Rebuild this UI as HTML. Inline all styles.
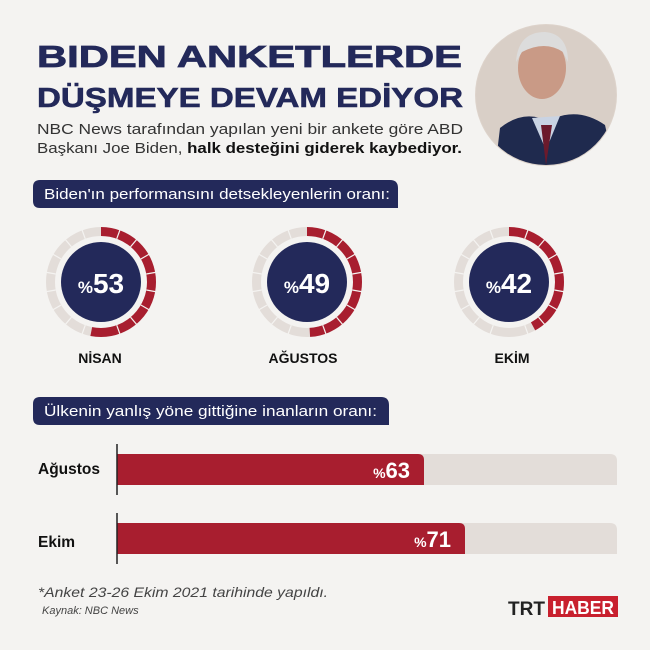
<!DOCTYPE html>
<html><head><meta charset="utf-8"><style>
html,body{margin:0;padding:0;background:#f4f3f1;}
svg{display:block}
</style></head><body>
<svg width="650" height="650" viewBox="0 0 650 650" xmlns="http://www.w3.org/2000/svg" font-family="Liberation Sans, sans-serif">
<rect width="650" height="650" fill="#f4f3f1"/>
<text x="37" y="67" font-size="31" font-weight="bold" fill="#23295a" stroke="#23295a" stroke-width="0.8" textLength="425" lengthAdjust="spacingAndGlyphs">BIDEN ANKETLERDE</text>
<text x="37" y="107" font-size="28" font-weight="bold" fill="#23295a" stroke="#23295a" stroke-width="0.6" textLength="426" lengthAdjust="spacingAndGlyphs">DÜŞMEYE DEVAM EDİYOR</text>
<text x="37" y="134" font-size="15" fill="#333" textLength="426" lengthAdjust="spacingAndGlyphs">NBC News tarafından yapılan yeni bir ankete göre ABD</text>
<text x="37" y="153" font-size="15" fill="#333" textLength="425" lengthAdjust="spacingAndGlyphs">Başkanı Joe Biden, <tspan font-weight="bold" fill="#111">halk desteğini giderek kaybediyor.</tspan></text>
<defs><clipPath id="pc"><circle cx="546" cy="95" r="70"/></clipPath></defs>
<circle cx="546" cy="95" r="71" fill="#ddd3cb"/>
<g clip-path="url(#pc)">
<rect x="470" y="20" width="160" height="160" fill="#d9cfc7"/>
<path d="M495 170 L500 128 Q520 112 540 118 L555 118 Q580 108 605 125 L615 170Z" fill="#1f2a4e"/>
<path d="M532 118 L546 150 L560 116Z" fill="#c9d3e3"/>
<path d="M541 125 L546 165 L552 125Z" fill="#6b1a2c"/>
<ellipse cx="542" cy="68" rx="24" ry="31" fill="#c99a86"/>
<path d="M516 62 Q518 32 545 32 Q568 34 568 62 L563 52 Q545 40 522 52Z" fill="#dcdcdc"/>
</g>
<path d="M40 180 H390 Q398 180 398 188 V208 H40 Q33 208 33 201 V187 Q33 180 40 180Z" fill="#23295a"/>
<text x="44" y="199" font-size="14.5" fill="#fff" textLength="346" lengthAdjust="spacingAndGlyphs">Biden'ın performansını detsekleyenlerin oranı:</text>
<g transform="translate(101,282)">
<circle r="50.5" fill="none" stroke="#e3ddd9" stroke-width="9"/>
<circle r="50.5" fill="none" stroke="#a81e2f" stroke-width="9" stroke-dasharray="168.2 400" transform="rotate(-90)"/>
<circle r="40" fill="#23295a"/>
</g>
<g transform="translate(307,282)">
<circle r="50.5" fill="none" stroke="#e3ddd9" stroke-width="9"/>
<circle r="50.5" fill="none" stroke="#a81e2f" stroke-width="9" stroke-dasharray="155.5 400" transform="rotate(-90)"/>
<circle r="40" fill="#23295a"/>
</g>
<g transform="translate(509,282)">
<circle r="50.5" fill="none" stroke="#e3ddd9" stroke-width="9"/>
<circle r="50.5" fill="none" stroke="#a81e2f" stroke-width="9" stroke-dasharray="133.3 400" transform="rotate(-90)"/>
<circle r="40" fill="#23295a"/>
</g>
<defs>
<g id="ticks">
<line x1="0" y1="-46" x2="0" y2="-56" transform="rotate(20)"/><line x1="0" y1="-46" x2="0" y2="-56" transform="rotate(40)"/><line x1="0" y1="-46" x2="0" y2="-56" transform="rotate(60)"/><line x1="0" y1="-46" x2="0" y2="-56" transform="rotate(80)"/><line x1="0" y1="-46" x2="0" y2="-56" transform="rotate(100)"/><line x1="0" y1="-46" x2="0" y2="-56" transform="rotate(120)"/><line x1="0" y1="-46" x2="0" y2="-56" transform="rotate(140)"/><line x1="0" y1="-46" x2="0" y2="-56" transform="rotate(160)"/><line x1="0" y1="-46" x2="0" y2="-56" transform="rotate(200)"/><line x1="0" y1="-46" x2="0" y2="-56" transform="rotate(220)"/><line x1="0" y1="-46" x2="0" y2="-56" transform="rotate(240)"/><line x1="0" y1="-46" x2="0" y2="-56" transform="rotate(260)"/><line x1="0" y1="-46" x2="0" y2="-56" transform="rotate(280)"/><line x1="0" y1="-46" x2="0" y2="-56" transform="rotate(300)"/><line x1="0" y1="-46" x2="0" y2="-56" transform="rotate(320)"/><line x1="0" y1="-46" x2="0" y2="-56" transform="rotate(340)"/>
</g>
</defs>
<g stroke="#f4f3f1" stroke-width="1.2">
<use href="#ticks" transform="translate(101,282)"/>
<use href="#ticks" transform="translate(307,282)"/>
<use href="#ticks" transform="translate(509,282)"/>
</g>
<g fill="#fff" font-weight="bold" text-anchor="middle">
<text x="101" y="293" font-size="28"><tspan font-size="17">%</tspan>53</text>
<text x="307" y="293" font-size="28"><tspan font-size="17">%</tspan>49</text>
<text x="509" y="293" font-size="28"><tspan font-size="17">%</tspan>42</text>
</g>
<g fill="#111" font-weight="bold" font-size="14" text-anchor="middle">
<text x="100" y="363">NİSAN</text>
<text x="303" y="363">AĞUSTOS</text>
<text x="512" y="363">EKİM</text>
</g>
<path d="M40 397 H381 Q389 397 389 405 V425 H40 Q33 425 33 418 V404 Q33 397 40 397Z" fill="#23295a"/>
<text x="44" y="416" font-size="14.5" fill="#fff" textLength="333" lengthAdjust="spacingAndGlyphs">Ülkenin yanlış yöne gittiğine inanların oranı:</text>
<path d="M117 454 H610 Q617 454 617 461 V485 H117Z" fill="#e3ddd9"/>
<path d="M117 454 H418 Q424 454 424 460 V485 H117Z" fill="#a81e2f"/>
<path d="M117 523 H610 Q617 523 617 530 V554 H117Z" fill="#e3ddd9"/>
<path d="M117 523 H459 Q465 523 465 529 V554 H117Z" fill="#a81e2f"/>
<line x1="117" y1="444" x2="117" y2="495" stroke="#222" stroke-width="1.5"/>
<line x1="117" y1="513" x2="117" y2="564" stroke="#222" stroke-width="1.5"/>
<g fill="#fff" font-weight="bold" text-anchor="end">
<text x="410" y="478" font-size="22"><tspan font-size="14">%</tspan>63</text>
<text x="451" y="547" font-size="22"><tspan font-size="14">%</tspan>71</text>
</g>
<g fill="#111" font-weight="bold" font-size="15.5">
<text x="38" y="474">Ağustos</text>
<text x="38" y="547">Ekim</text>
</g>
<text x="38" y="597" font-size="14" font-style="italic" fill="#444" textLength="290" lengthAdjust="spacingAndGlyphs">*Anket 23-26 Ekim 2021 tarihinde yapıldı.</text>
<text x="42" y="614" font-size="11" font-style="italic" fill="#444">Kaynak: NBC News</text>
<text x="508" y="615" font-size="19" font-weight="bold" fill="#222" textLength="37" lengthAdjust="spacingAndGlyphs">TRT</text>
<rect x="548" y="596" width="70" height="21" fill="#c8202e"/>
<text x="583" y="614" font-size="18" font-weight="bold" fill="#fff" text-anchor="middle" textLength="62" lengthAdjust="spacingAndGlyphs">HABER</text>
</svg>
</body></html>
